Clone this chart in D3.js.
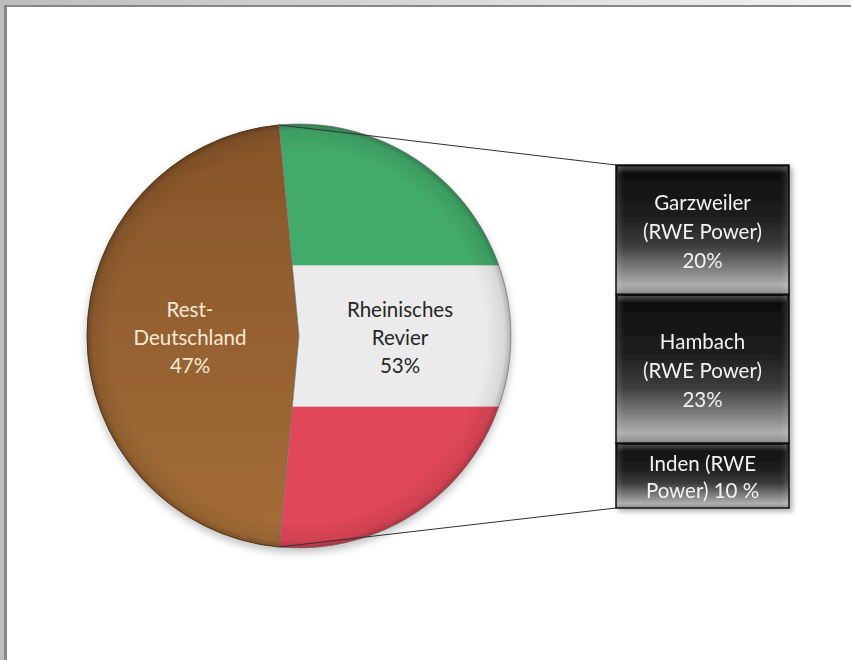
<!DOCTYPE html>
<html><head><meta charset="utf-8">
<script src="https://cdn.jsdelivr.net/npm/d3@7"></script>
<style>html,body{margin:0;padding:0;background:#fff;}svg{display:block;}</style>
</head><body>
<svg id="chart" width="851" height="660"></svg>
<script>
// ---- data ----
const pieLabels = [["Rheinisches", "Revier", "53%"], ["Rest-", "Deutschland", "47%"]];
const pieNames = ["Rheinisches Revier", "Rest-Deutschland"];
const pieValues = [53, 47];
const barNames = ["Garzweiler (RWE Power)", "Hambach (RWE Power)", "Inden (RWE Power)"];
const barLabels = [["Garzweiler", "(RWE Power)", "20%"], ["Hambach", "(RWE Power)", "23%"], ["Inden (RWE", "Power) 10 %"]];
const barValues = [20, 23, 10];
const flagColors = ["#43aa6a", "#ebebeb", "#e04659"];

const svg = d3.select("#chart");
const W = 851, H = 660;
const defs = svg.append("defs");

// background frame
const bgGrad = defs.append("linearGradient").attr("id", "bgGrad").attr("x1", 0).attr("x2", 1).attr("y1", 0).attr("y2", 0);
bgGrad.append("stop").attr("offset", "0%").attr("stop-color", "#bdbdbd");
bgGrad.append("stop").attr("offset", "100%").attr("stop-color", "#f2f2f2");
svg.append("rect").attr("width", W).attr("height", H).attr("fill", "url(#bgGrad)");
svg.append("rect").attr("x", 4).attr("y", 5).attr("width", W - 4).attr("height", H - 5).attr("fill", "#868686");
svg.append("rect").attr("x", 7).attr("y", 7).attr("width", W - 7).attr("height", H - 7).attr("fill", "#ffffff");

// ---- pie ----
const cx = 299, cy = 336, r = 212;
const total = d3.sum(pieValues);
const startA = Math.PI / 2 - (pieValues[0] / total) * Math.PI;
const pie = d3.pie().sort(null).value(d => d).startAngle(startA).endAngle(startA + 2 * Math.PI);
const arcs = pie(pieValues);
const arc = d3.arc().innerRadius(0).outerRadius(r);

const g = svg.append("g").attr("transform", `translate(${cx},${cy})`);

// shadow under pie
const sh = defs.append("filter").attr("id", "shadow").attr("x", "-20%").attr("y", "-20%").attr("width", "140%").attr("height", "140%");
sh.append("feGaussianBlur").attr("in", "SourceAlpha").attr("stdDeviation", 4);
sh.append("feOffset").attr("dx", 0).attr("dy", 4).attr("result", "ob");
sh.append("feComponentTransfer").append("feFuncA").attr("type", "linear").attr("slope", 0.25);
const fm = sh.append("feMerge");
fm.append("feMergeNode");
fm.append("feMergeNode").attr("in", "SourceGraphic");

// brown gradient
const brown = defs.append("linearGradient").attr("id", "brownGrad").attr("x1", 0).attr("y1", 0).attr("x2", 0).attr("y2", 1);
brown.append("stop").attr("offset", "0%").attr("stop-color", "#87552a");
brown.append("stop").attr("offset", "100%").attr("stop-color", "#a46d37");

// clip for right slice
defs.append("clipPath").attr("id", "rightClip").append("path").attr("d", arc(arcs[0]));

const pieG = g.append("g").attr("filter", "url(#shadow)");
// left slice
pieG.append("path").attr("d", arc(arcs[1])).attr("fill", "url(#brownGrad)").attr("stroke", "#5e3b1a").attr("stroke-width", 1);
// right slice: flag bands
const band = d3.scaleBand().domain(flagColors.map((c, i) => i)).range([-r, r]).padding(0);
const rightG = pieG.append("g").attr("clip-path", "url(#rightClip)");
rightG.selectAll("rect").data(flagColors).join("rect")
  .attr("x", -r - 2).attr("width", 2 * r + 4)
  .attr("y", (d, i) => band(i)).attr("height", band.bandwidth() + 0.5)
  .attr("fill", d => d);
pieG.append("path").attr("d", arc(arcs[0])).attr("fill", "none").attr("stroke", "#8a8a8a").attr("stroke-width", 0.8);

// bevel overlay
const bev = defs.append("radialGradient").attr("id", "bevel");
bev.append("stop").attr("offset", "88%").attr("stop-color", "#000").attr("stop-opacity", 0);
bev.append("stop").attr("offset", "97%").attr("stop-color", "#000").attr("stop-opacity", 0.08);
bev.append("stop").attr("offset", "100%").attr("stop-color", "#000").attr("stop-opacity", 0.25);
g.append("circle").attr("r", r).attr("fill", "url(#bevel)").attr("pointer-events", "none");

// pie labels
const font = "Lato, 'Open Sans', sans-serif";
const fs = 20.5;
const labelPos = [[cx + 101, 0], [cx - 109, 0]];
const labelColor = ["#262626", "#f6ead2"];
pieLabels.forEach((lines, i) => {
  const t = svg.append("text").attr("text-anchor", "middle")
    .attr("font-family", font).attr("font-size", fs).attr("fill", labelColor[i]);
  lines.forEach((ln, j) => {
    t.append("tspan").attr("x", labelPos[i][0]).attr("y", 317 + j * 28).text(ln);
  });
});

// ---- bar ----
const bx0 = 616, bx1 = 789, by0 = 165, by1 = 508;
const y = d3.scaleLinear().domain([0, d3.sum(barValues)]).range([by0, by1]);
const cum = d3.cumsum(barValues);
const segs = barValues.map((v, i) => ({ v, y0: i ? cum[i - 1] : 0, y1: cum[i], label: barLabels[i] }));

// connector lines
svg.append("line").attr("x1", cx + r * Math.sin(startA)).attr("y1", cy - r * Math.cos(startA))
  .attr("x2", bx0).attr("y2", y(0)).attr("stroke", "#303030").attr("stroke-width", 1);
const endA = startA + (pieValues[0] / total) * 2 * Math.PI;
svg.append("line").attr("x1", cx + r * Math.sin(endA)).attr("y1", cy - r * Math.cos(endA))
  .attr("x2", bx0).attr("y2", y(d3.sum(barValues))).attr("stroke", "#303030").attr("stroke-width", 1);

const barGrad = defs.append("linearGradient").attr("id", "barGrad").attr("x1", 0).attr("y1", 0).attr("x2", 0).attr("y2", 1);
[["0%", "#0c0c0c"], ["40%", "#1f1f1f"], ["62%", "#3c3c3c"], ["93%", "#adadad"], ["100%", "#8a8a8a"]]
  .forEach(s => barGrad.append("stop").attr("offset", s[0]).attr("stop-color", s[1]));
const topHi = defs.append("linearGradient").attr("id", "topHi").attr("x1", 0).attr("y1", 0).attr("x2", 0).attr("y2", 1);
topHi.append("stop").attr("offset", "0%").attr("stop-color", "#fff").attr("stop-opacity", 0.25);
topHi.append("stop").attr("offset", "100%").attr("stop-color", "#fff").attr("stop-opacity", 0);
const sideHi = defs.append("linearGradient").attr("id", "sideHi").attr("x1", 0).attr("y1", 0).attr("x2", 1).attr("y2", 0);
sideHi.append("stop").attr("offset", "0%").attr("stop-color", "#fff").attr("stop-opacity", 0.12);
sideHi.append("stop").attr("offset", "4%").attr("stop-color", "#fff").attr("stop-opacity", 0);
sideHi.append("stop").attr("offset", "96%").attr("stop-color", "#fff").attr("stop-opacity", 0);
sideHi.append("stop").attr("offset", "100%").attr("stop-color", "#fff").attr("stop-opacity", 0.12);

const bs = defs.append("filter").attr("id", "barShadow").attr("x", "-10%").attr("y", "-10%").attr("width", "130%").attr("height", "130%");
bs.append("feGaussianBlur").attr("in", "SourceAlpha").attr("stdDeviation", 2.5);
bs.append("feOffset").attr("dx", 3).attr("dy", 3);
bs.append("feComponentTransfer").append("feFuncA").attr("type", "linear").attr("slope", 0.3);
const bm = bs.append("feMerge");
bm.append("feMergeNode");
bm.append("feMergeNode").attr("in", "SourceGraphic");

const barG = svg.append("g").attr("filter", "url(#barShadow)");
const sg = barG.selectAll("g.seg").data(segs).join("g").attr("class", "seg");
sg.append("rect").attr("x", bx0).attr("width", bx1 - bx0)
  .attr("y", d => y(d.y0)).attr("height", d => y(d.y1) - y(d.y0))
  .attr("fill", "url(#barGrad)").attr("stroke", "#111").attr("stroke-width", 1.5);
sg.append("rect").attr("x", bx0 + 1).attr("width", bx1 - bx0 - 2)
  .attr("y", d => y(d.y0) + 1).attr("height", d => y(d.y1) - y(d.y0) - 2)
  .attr("fill", "url(#sideHi)");
sg.append("rect").attr("x", bx0 + 2).attr("width", bx1 - bx0 - 4)
  .attr("y", d => y(d.y0) + 1.5).attr("height", 7)
  .attr("fill", "url(#topHi)");

// bar labels
sg.each(function (d) {
  const n = d.label.length;
  const mid = (y(d.y0) + y(d.y1)) / 2;
  const lh = n === 3 ? 29 : 27;
  const t = d3.select(this).append("text").attr("text-anchor", "middle")
    .attr("font-family", font).attr("font-size", fs).attr("fill", "#f2f2f2");
  d.label.forEach((ln, j) => {
    t.append("tspan").attr("x", (bx0 + bx1) / 2).attr("y", mid + (j - (n - 1) / 2) * lh + 9).text(ln);
  });
});
</script>
</body></html>
